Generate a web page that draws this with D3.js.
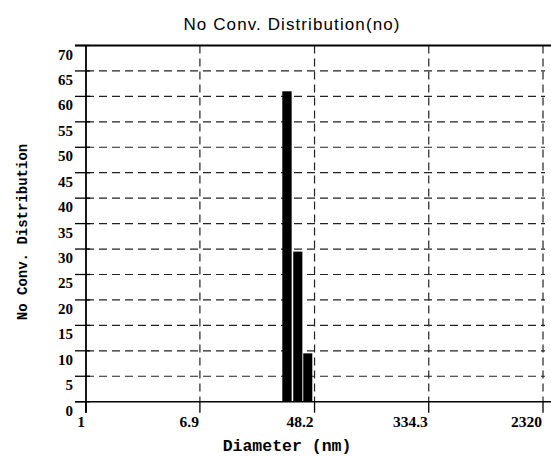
<!DOCTYPE html>
<html><head><meta charset="utf-8">
<script src="https://cdn.jsdelivr.net/npm/d3@7"></script>
<style>html,body{margin:0;padding:0;background:#fff}svg{display:block}</style>
</head><body>
<svg id="c" width="551" height="458"></svg>
<script>
// Data
const binLow = [27.9, 33.6, 39.8];
const binHigh = [32.7, 39.2, 46.4];
const values = [61, 29.5, 9.5];
const xTicks = [1, 6.9, 48.2, 334.3, 2320];
const xTickLabels = ["1", "6.9", "48.2", "334.3", "2320"];
const yTicks = [0, 5, 10, 15, 20, 25, 30, 35, 40, 45, 50, 55, 60, 65, 70];
const title = "No Conv. Distribution(no)";
const xTitle = "Diameter (nm)";
const yTitle = "No Conv. Distribution";

const svg = d3.select("#c");
const L = 86, R = 543, T = 45.5, B = 401.7;
const x = d3.scaleLog().domain([1, 2320]).range([L, R]);
const y = d3.scaleLinear().domain([0, 70]).range([B, T]);

// horizontal dashed grid
svg.append("g").selectAll("line").data(yTicks.filter(d => d > 0 && d < 70)).join("line")
  .attr("x1", L).attr("x2", R + 2).attr("y1", d => y(d)).attr("y2", d => y(d))
  .attr("stroke", "#222").attr("stroke-width", 1.2).attr("stroke-dasharray", "8,5");
// vertical dashed grid
svg.append("g").selectAll("line").data(xTicks.slice(1)).join("line")
  .attr("x1", d => x(d)).attr("x2", d => x(d)).attr("y1", T).attr("y2", B)
  .attr("stroke", "#222").attr("stroke-width", 1.2).attr("stroke-dasharray", "8,5");

// bars
svg.append("g").selectAll("rect").data(values).join("rect")
  .attr("x", (d, i) => x(binLow[i]))
  .attr("width", (d, i) => x(binHigh[i]) - x(binLow[i]))
  .attr("y", d => y(d)).attr("height", d => B - y(d))
  .attr("fill", "#000");

// y axis ticks (left, extending outward)
svg.append("g").selectAll("line").data(yTicks).join("line")
  .attr("x1", 75).attr("x2", L + 4).attr("y1", d => y(d)).attr("y2", d => y(d))
  .attr("stroke", "#000").attr("stroke-width", 1.3);
// x axis ticks below
svg.append("g").selectAll("line").data(xTicks).join("line")
  .attr("x1", d => x(d)).attr("x2", d => x(d)).attr("y1", B).attr("y2", B + 11)
  .attr("stroke", "#000").attr("stroke-width", 1.3);

// frame lines
svg.append("line").attr("x1", 75).attr("x2", 551).attr("y1", T).attr("y2", T)
  .attr("stroke", "#000").attr("stroke-width", 2);
svg.append("line").attr("x1", 75).attr("x2", 551).attr("y1", B).attr("y2", B)
  .attr("stroke", "#000").attr("stroke-width", 1.6);
svg.append("line").attr("x1", L).attr("x2", L).attr("y1", T).attr("y2", B + 11)
  .attr("stroke", "#000").attr("stroke-width", 1.8);

// y tick labels
svg.append("g").selectAll("text").data(yTicks).join("text")
  .attr("x", 73).attr("y", d => y(d) + 14)
  .attr("text-anchor", "end")
  .attr("font-family", "Liberation Serif, serif").attr("font-size", 15).attr("font-weight", "bold")
  .text(d => d);
// x tick labels
svg.append("g").selectAll("text").data(xTicks).join("text")
  .attr("x", (d) => x(d) - 1).attr("y", 427)
  .attr("text-anchor", "end")
  .attr("font-family", "Liberation Serif, serif").attr("font-size", 15.5).attr("font-weight", "bold")
  .text((d, i) => xTickLabels[i]);

// titles
svg.append("text").attr("x", 292).attr("y", 30).attr("text-anchor", "middle")
  .attr("font-family", "Liberation Sans, Arial, sans-serif").attr("font-size", 17)
  .attr("letter-spacing", 1.1)
  .text(title);
svg.append("text").attr("x", 287).attr("y", 451).attr("text-anchor", "middle")
  .attr("font-family", "Liberation Mono, monospace").attr("font-size", 16.5).attr("font-weight", "bold")
  .text(xTitle);
svg.append("text").attr("transform", "translate(27,232) rotate(-90)").attr("text-anchor", "middle")
  .attr("font-family", "Liberation Mono, monospace").attr("font-size", 14).attr("font-weight", "bold")
  .text(yTitle);
</script>
</body></html>
